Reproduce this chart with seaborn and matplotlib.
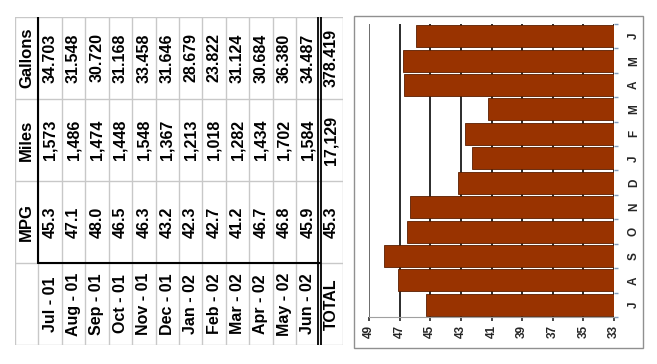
import matplotlib
matplotlib.use("Agg")
import matplotlib.pyplot as plt
from matplotlib.patches import Rectangle
import seaborn as sns
import pandas as pd

# data
months = ["Jul - 01", "Aug - 01", "Sep - 01", "Oct - 01", "Nov - 01", "Dec - 01",
          "Jan - 02", "Feb - 02", "Mar - 02", "Apr - 02", "May - 02", "Jun - 02"]
month_letters = ["J", "A", "S", "O", "N", "D", "J", "F", "M", "A", "M", "J"]
mpg = [45.3, 47.1, 48.0, 46.5, 46.3, 43.2, 42.3, 42.7, 41.2, 46.7, 46.8, 45.9]
miles = [1573, 1486, 1474, 1448, 1548, 1367, 1213, 1018, 1282, 1434, 1702, 1584]
gallons = [34.703, 31.548, 30.720, 31.168, 33.458, 31.646, 28.679, 23.822,
           31.124, 30.684, 36.380, 34.487]
total_label = "TOTAL"
total_mpg = 45.3
total_miles = 17129
total_gallons = 378.419
value_ticks = [49, 47, 45, 43, 41, 39, 37, 35, 33]

sns.set_theme(style="white")
plt.rcParams["font.family"] = ["Liberation Sans", "DejaVu Sans"]

W, H = 657, 364
fig = plt.figure(figsize=(W / 100, H / 100), dpi=100)


def fig_rect(x0, y0, x1, y1):
    return [x0 / W, (H - y1) / H, (x1 - x0) / W, (y1 - y0) / H]


# ---- table (drawn rotated, text reading bottom-to-top) ----
tax = fig.add_axes(fig_rect(15, 17, 343, 345))
ncol = len(months) + 2
tax.set_xlim(0, ncol)
tax.set_ylim(4, 0)
tax.axis("off")

grid = "#c8c8c8"
for c in range(ncol + 1):
    tax.plot([c, c], [0, 4], color=grid, lw=1, zorder=1)
for r in range(5):
    tax.plot([0, ncol], [r, r], color=grid, lw=1, zorder=1)
tax.plot([1, 1], [0, 3], color="black", lw=1.5, zorder=2)
tax.plot([1, ncol - 1], [3, 3], color="black", lw=1.5, zorder=2)
tax.plot([ncol - 1.07, ncol - 1.07], [0, 4], color="black", lw=1.3, zorder=2)
tax.plot([ncol - 0.93, ncol - 0.93], [0, 4], color="black", lw=1.3, zorder=2)

kw = dict(rotation=90, ha="center", va="center", fontweight="bold", color="black")
for r, name in enumerate(["Gallons", "Miles", "MPG"]):
    tax.text(0.5, r + 0.5, name, fontsize=12, **kw)
cols = [(f"{g:.3f}", f"{m:,}", f"{p:.1f}", lab)
        for g, m, p, lab in zip(gallons, miles, mpg, months)]
cols.append((f"{total_gallons:.3f}", f"{total_miles:,}", f"{total_mpg:.1f}", total_label))
for c, vals in enumerate(cols, start=1):
    for r, v in enumerate(vals):
        tax.text(c + 0.5, r + 0.5, v, fontsize=11.5, **kw)

# ---- chart frame ----
fig.patches.append(Rectangle((354 / W, (H - 348) / H), 289 / W, 332 / H,
                             transform=fig.transFigure, fill=False,
                             edgecolor="#909090", lw=1))

ax = fig.add_axes(fig_rect(369, 24, 614, 317))
df = pd.DataFrame({"month": months, "mpg": mpg})
sns.barplot(data=df, x="mpg", y="month", orient="h", color="#993300",
            edgecolor="#5a1e00", linewidth=0.6, width=0.9, saturation=1, ax=ax)
ax.set_xlim(49, 33)
ax.set_ylim(-0.5, len(months) - 0.5)
ax.set_xticks(value_ticks)
ax.set_xticklabels([str(t) for t in value_ticks], rotation=90,
                   fontsize=8.5, fontweight="bold")
ax.set_axisbelow(True)
ax.grid(axis="x", color="#1a1a1a", lw=1.3)
ax.grid(axis="y", visible=False)
ax.get_xgridlines()[0].set_color("#606060")
ax.set_xlabel("")
ax.set_ylabel("")
ax.yaxis.tick_right()
ax.set_yticks(range(len(months)))
ax.set_yticklabels(month_letters, rotation=90, fontsize=8.5, fontweight="bold",
                   va="center")
ax.tick_params(axis="y", length=0, pad=10)
ax.set_yticks([i - 0.5 for i in range(len(months) + 1)], minor=True)
ax.tick_params(axis="y", which="minor", right=True, length=3, color="#7f99b8")
ax.tick_params(axis="x", bottom=True, length=3, color="#303030", pad=3)
for s in ["top", "left", "right"]:
    ax.spines[s].set_visible(False)
ax.spines["bottom"].set_color("#a0a0a0")
ax.spines["bottom"].set_linewidth(0.8)

fig.savefig("out.png", dpi=100)
